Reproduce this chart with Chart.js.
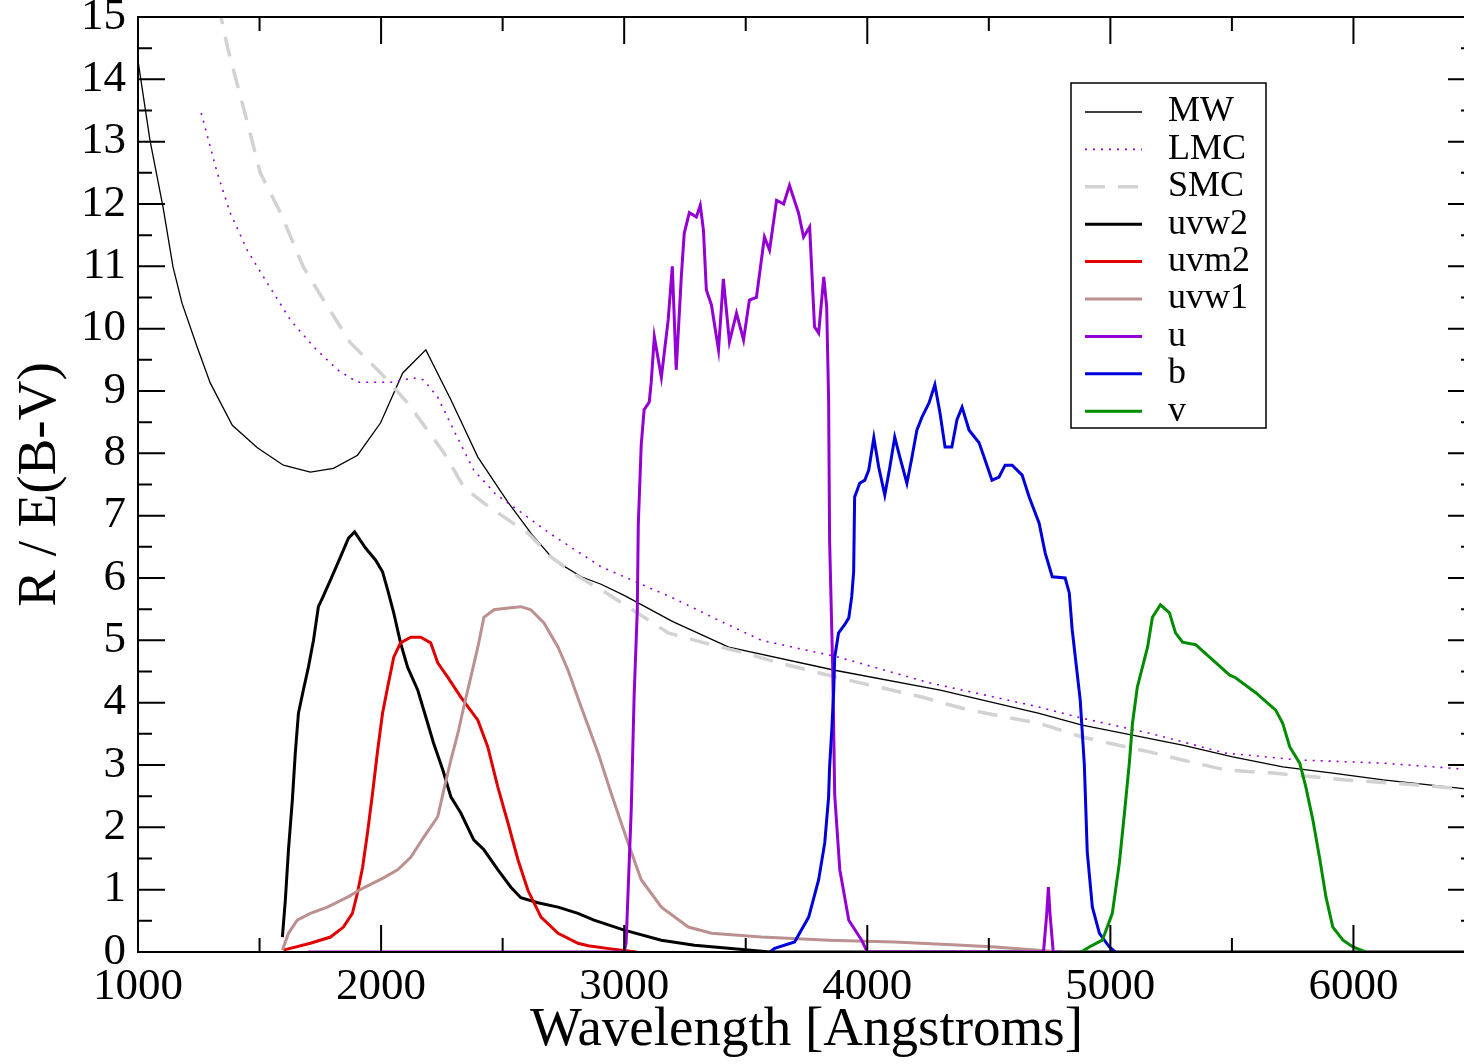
<!DOCTYPE html>
<html lang="en">
<head>
<meta charset="UTF-8">
<title>Extinction curves and UVOT filters</title>
<style>
  html, body { margin: 0; padding: 0; overflow: hidden; background: #fff; }
  canvas { display: block; }
</style>
</head>
<body>
<canvas id="extChart" width="1475" height="1064"></canvas>
<script src="https://cdn.jsdelivr.net/npm/chart.js@4.4.0/dist/chart.umd.min.js"></script>
<script>
// [wavelength (A), R / E(B-V)]
const mw = [[1000,14.3],[1049,13.03],[1103,11.95],[1144,10.99],[1181,10.41],[1243,9.71],[1297,9.13],[1388,8.45],
  [1491,8.09],[1598,7.81],[1709,7.7],[1804,7.76],[1903,7.97],[1998,8.49],[2089,9.29],[2184,9.66],[2287,8.86],
  [2398,7.94],[2521,7.22],[2620,6.7],[2711,6.29],[2823,6.02],[2905,5.9],[3000,5.72],[3200,5.3],[3430,4.89],
  [3866,4.52],[4300,4.2],[4707,3.83],[4884,3.64],[5091,3.48],[5297,3.32],[5503,3.13],[5709,2.97],[5915,2.87],
  [6122,2.76],[6500,2.6]];
const lmc = [[1260,13.46],[1326,12.5],[1379,11.86],[1449,11.26],[1532,10.73],[1627,10.14],[1722,9.71],[1821,9.34],
  [1903,9.14],[2039,9.14],[2134,9.21],[2175,9.18],[2233,8.9],[2299,8.37],[2381,7.73],[2470,7.35],[2563,7.09],
  [2700,6.7],[2810,6.42],[2905,6.18],[3041,5.95],[3200,5.68],[3400,5.3],[3565,5.0],[3882,4.73],[4254,4.32],
  [4707,3.93],[4884,3.75],[5161,3.51],[5474,3.19],[5779,3.08],[6122,3.03],[6500,2.92]];
const smc = [[1330,15.2],[1371,14.47],[1433,13.56],[1503,12.5],[1586,11.86],[1680,10.99],[1763,10.46],[1874,9.77],
  [1998,9.29],[2109,8.81],[2258,8.01],[2340,7.46],[2423,7.2],[2505,6.98],[2604,6.72],[2699,6.34],[2800,6.05],
  [2930,5.75],[3070,5.4],[3181,5.12],[3330,4.96],[3482,4.81],[3635,4.64],[3924,4.36],[4225,4.09],[4390,3.91],
  [4567,3.77],[4707,3.67],[4884,3.45],[4996,3.35],[5161,3.21],[5297,3.08],[5474,2.92],[5668,2.87],[5833,2.81],
  [5969,2.76],[6200,2.7],[6500,2.6]];
const uvw2 = [[1594,0.24],[1606,0.83],[1619,1.64],[1635,2.44],[1647,3.19],[1660,3.83],[1680,4.2],[1701,4.57],
  [1722,5.0],[1742,5.54],[1759,5.68],[1792,5.97],[1833,6.34],[1866,6.64],[1891,6.74],[1936,6.48],[1977,6.29],
  [2006,6.1],[2027,5.81],[2052,5.44],[2080,4.96],[2109,4.57],[2151,4.2],[2184,3.77],[2216,3.35],[2254,2.92],
  [2287,2.49],[2328,2.23],[2381,1.8],[2423,1.64],[2480,1.32],[2534,1.04],[2575,0.87],[2645,0.79],[2728,0.72],
  [2810,0.62],[2876,0.51],[3000,0.35],[3153,0.19],[3289,0.11],[3429,0.06],[3600,0],[6500,0]];
const uvm2 = [[1598,0.03],[1709,0.14],[1792,0.24],[1845,0.4],[1882,0.62],[1903,0.95],[1924,1.36],[1944,1.91],
  [1965,2.55],[1986,3.24],[2006,3.83],[2027,4.25],[2052,4.73],[2080,4.96],[2122,5.05],[2163,5.05],[2204,4.96],
  [2233,4.64],[2274,4.41],[2328,4.09],[2398,3.72],[2439,3.29],[2480,2.65],[2522,2.07],[2563,1.48],[2604,0.99],
  [2658,0.56],[2728,0.3],[2810,0.14],[2852,0.1],[2946,0.05],[3050,0]];
const uvw1 = [[1594,0.03],[1619,0.3],[1655,0.51],[1709,0.62],[1779,0.72],[1862,0.88],[1928,1.03],[2010,1.19],
  [2068,1.32],[2122,1.52],[2175,1.84],[2233,2.17],[2258,2.6],[2287,3.08],[2316,3.51],[2340,3.93],[2369,4.41],
  [2398,4.89],[2423,5.37],[2464,5.49],[2522,5.52],[2575,5.54],[2616,5.49],[2670,5.28],[2728,4.89],[2769,4.52],
  [2823,3.93],[2893,3.19],[2946,2.55],[3016,1.75],[3070,1.16],[3153,0.72],[3264,0.4],[3359,0.3],[3565,0.24],
  [3841,0.19],[4113,0.16],[4390,0.11],[4526,0.08],[4800,0]];
const uBand = [[1700,0],[3000,0],[3008,0.15],[3029,2.28],[3041,4.12],[3054,5.49],[3058,6.85],[3070,8.13],[3082,8.7],
  [3103,8.82],[3111,9.13],[3124,9.87],[3153,9.22],[3181,10.14],[3198,11.0],[3214,9.34],[3235,10.83],[3247,11.53],
  [3268,11.86],[3297,11.79],[3313,11.98],[3326,11.58],[3338,10.62],[3359,10.38],[3388,9.66],[3408,10.8],
  [3433,9.79],[3462,10.25],[3491,9.82],[3515,10.46],[3544,10.5],[3577,11.47],[3598,11.26],[3627,12.06],
  [3656,12.0],[3680,12.3],[3717,11.86],[3738,11.47],[3763,11.63],[3783,10.03],[3800,9.93],[3821,10.83],
  [3833,10.35],[3841,8.86],[3845,6.61],[3858,4.52],[3866,2.52],[3887,1.32],[3924,0.51],[3977,0.19],[4000,0],
  [4725,0],[4738,0.6],[4745,1.04],[4752,0.6],[4765,0],[4800,0]];
const bBand = [[3600,0],[3619,0.06],[3701,0.16],[3759,0.56],[3800,1.16],[3825,1.75],[3841,2.49],[3845,2.97],
  [3854,3.56],[3862,4.2],[3866,4.73],[3882,5.12],[3907,5.25],[3924,5.36],[3936,5.7],[3944,6.1],[3948,7.3],
  [3969,7.52],[3990,7.57],[4006,7.73],[4027,8.25],[4047,7.78],[4072,7.33],[4093,7.78],[4113,8.26],[4134,7.94],
  [4163,7.52],[4184,7.94],[4204,8.37],[4225,8.58],[4254,8.81],[4278,9.1],[4299,8.65],[4320,8.1],[4348,8.1],
  [4369,8.54],[4390,8.74],[4419,8.37],[4460,8.17],[4485,7.89],[4513,7.57],[4542,7.62],[4567,7.81],[4596,7.81],
  [4637,7.65],[4666,7.3],[4707,6.88],[4732,6.4],[4761,6.02],[4814,6.0],[4831,5.76],[4843,5.17],[4876,4.04],
  [4893,3.0],[4905,1.6],[4926,0.72],[4955,0.3],[4996,0.08],[5020,0]];
const vBand = [[4880,0],[4913,0.08],[4967,0.19],[5008,0.62],[5037,1.43],[5058,2.23],[5078,3.03],[5091,3.67],
  [5111,4.25],[5132,4.57],[5153,4.89],[5173,5.37],[5206,5.57],[5243,5.44],[5268,5.12],[5297,4.97],[5351,4.93],
  [5408,4.73],[5491,4.44],[5515,4.4],[5598,4.16],[5680,3.88],[5709,3.67],[5738,3.29],[5779,3.03],[5804,2.65],
  [5833,2.12],[5862,1.48],[5887,0.88],[5915,0.4],[5957,0.19],[5998,0.08],[6050,0]];

const xTicks = [1000, 2000, 3000, 4000, 5000, 6000];
const yTicks = [0, 1, 2, 3, 4, 5, 6, 7, 8, 9, 10, 11, 12, 13, 14, 15];

const serif = '"Liberation Serif", "Times New Roman", serif';

const series = [
  { label: 'MW',   data: mw,    color: '#000000', width: 1.3, dash: [] },
  { label: 'LMC',  data: lmc,   color: '#9400d3', width: 1.6, dash: [2, 6] },
  { label: 'SMC',  data: smc,   color: '#d2d2d2', width: 3.5, dash: [20, 13] },
  { label: 'uvw2', data: uvw2,  color: '#000000', width: 3, dash: [] },
  { label: 'uvm2', data: uvm2,  color: '#e00000', width: 3, dash: [] },
  { label: 'uvw1', data: uvw1,  color: '#bc9090', width: 3, dash: [] },
  { label: 'u',    data: uBand, color: '#9400d3', width: 3, dash: [] },
  { label: 'b',    data: bBand, color: '#0000dd', width: 3, dash: [] },
  { label: 'v',    data: vBand, color: '#008b00', width: 3, dash: [] }
];

// inward ticks on all four sides plus the frame, xmgrace style
const frameTicks = {
  id: 'frameTicks',
  afterDatasetsDraw(chart) {
    const { ctx, chartArea: a, scales: { x, y } } = chart;
    ctx.save();
    ctx.strokeStyle = '#000';
    ctx.lineWidth = 2;
    ctx.beginPath();
    for (let v = x.min; v < x.max; v += 500) {
      const px = x.getPixelForValue(v);
      const len = xTicks.includes(v) ? 27 : 14;
      ctx.moveTo(px, a.bottom); ctx.lineTo(px, a.bottom - len);
      ctx.moveTo(px, a.top); ctx.lineTo(px, a.top + len);
    }
    for (let v = y.min; v <= y.max; v += 0.5) {
      const py = y.getPixelForValue(v);
      const len = yTicks.includes(v) ? 27 : 14;
      ctx.moveTo(a.left, py); ctx.lineTo(a.left + len, py);
      ctx.moveTo(a.right, py); ctx.lineTo(a.right - len, py);
    }
    ctx.stroke();
    ctx.strokeRect(a.left, a.top, a.right - a.left, a.bottom - a.top);
    ctx.restore();
  }
};

// boxed legend with line samples, drawn from the dataset styles
const boxLegend = {
  id: 'boxLegend',
  afterDraw(chart) {
    const ctx = chart.ctx;
    const sets = chart.data.datasets;
    const box = { x: 1071, y: 83, w: 195, h: 345 };
    const row0 = 112, rowH = 37.4;
    ctx.save();
    ctx.fillStyle = '#fff';
    ctx.fillRect(box.x, box.y, box.w, box.h);
    ctx.strokeStyle = '#000';
    ctx.lineWidth = 1.5;
    ctx.strokeRect(box.x, box.y, box.w, box.h);
    ctx.font = '36px ' + serif;
    ctx.textBaseline = 'middle';
    sets.forEach((ds, i) => {
      const yy = row0 + i * rowH;
      ctx.strokeStyle = ds.borderColor;
      ctx.lineWidth = ds.borderWidth;
      ctx.setLineDash(ds.borderDash || []);
      ctx.beginPath();
      ctx.moveTo(1085, yy);
      ctx.lineTo(1142, yy);
      ctx.stroke();
      ctx.setLineDash([]);
      ctx.fillStyle = '#000';
      ctx.fillText(ds.label, 1168, yy);
    });
    ctx.restore();
  }
};

new Chart(document.getElementById('extChart'), {
  type: 'line',
  data: {
    datasets: series.map((s, i) => ({
      label: s.label,
      data: s.data.map(p => ({ x: p[0], y: p[1] })),
      borderColor: s.color,
      backgroundColor: s.color,
      borderWidth: s.width,
      borderDash: s.dash,
      pointRadius: 0,
      tension: 0,
      fill: false,
      order: series.length - i
    }))
  },
  options: {
    responsive: false,
    animation: false,
    layout: { padding: { top: 17, left: 0, right: 0, bottom: 0 } },
    plugins: { legend: { display: false }, tooltip: { enabled: false } },
    scales: {
      x: {
        type: 'linear',
        min: 1000,
        max: 6500,
        afterBuildTicks: s => { s.ticks = xTicks.map(v => ({ value: v })); },
        afterFit: s => { s.height = 112; s.paddingLeft = 0; s.paddingRight = 0; },
        grid: { display: false, drawTicks: false, tickLength: 0 },
        border: { display: false },
        ticks: { font: { family: serif, size: 45 }, color: '#000', padding: 8, maxRotation: 0, autoSkip: false,
                 callback: v => String(v) },
        title: { display: true, text: 'Wavelength [Angstroms]', color: '#000',
                 font: { family: serif, size: 55 }, padding: 0 }
      },
      y: {
        type: 'linear',
        min: 0,
        max: 15,
        afterBuildTicks: s => { s.ticks = yTicks.map(v => ({ value: v })); },
        afterFit: s => { s.width = 138; s.paddingTop = 0; s.paddingBottom = 0; },
        grid: { display: false, drawTicks: false, tickLength: 0 },
        border: { display: false },
        ticks: { font: { family: serif, size: 45 }, color: '#000', padding: 12, autoSkip: false },
        title: { display: true, text: 'R / E(B-V)', color: '#000',
                 font: { family: serif, size: 55 }, padding: { top: 8, bottom: 0 } }
      }
    }
  },
  plugins: [frameTicks, boxLegend]
});
</script>
</body>
</html>
